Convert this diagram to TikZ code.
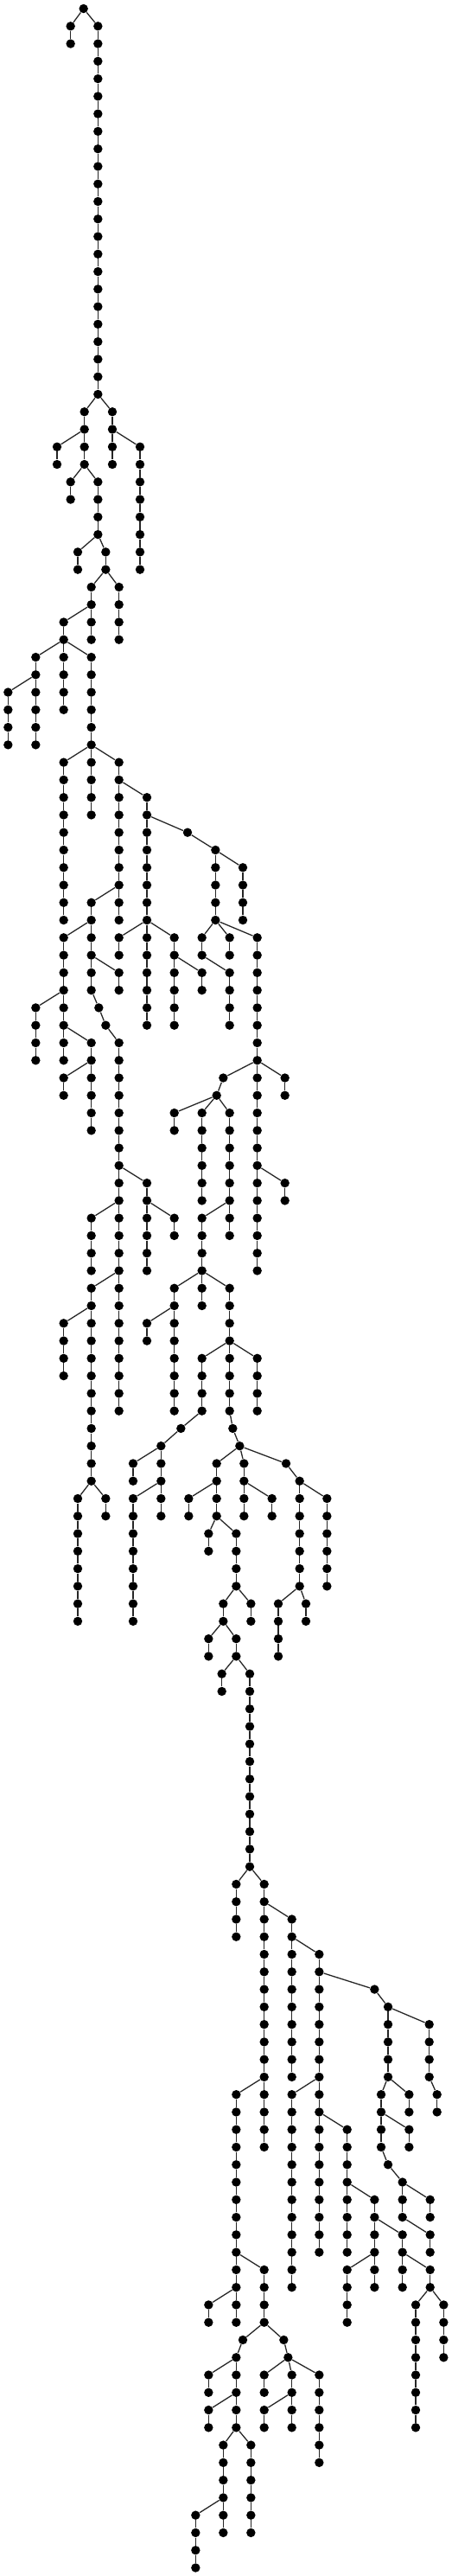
\documentclass[tikz,border=0pt]{standalone}
\begin{document}
\begin{tikzpicture}[x=0.166667pt,y=-10.135pt,
  dot/.style={circle,fill=black,draw=none,inner sep=0pt,minimum size=5.2pt},
  edge/.style={line width=0.65pt,draw=black!85}]
\useasboundingbox (0,-0.4933) rectangle (1632,146.47);
\def\chains{290/0/0, 245/1/2, 340/1/22, 293/23/26, 390/23/26, 198/25/26, 486/25/32, 245/27/28, 340/27/30, 270/31/32, 367/31/32, 317/33/36, 413/33/36, 221/35/40, 124/37/42, 317/37/46, 28/39/42, 221/43/52, 413/43/52, 510/45/58, 651/47/47, 748/48/52, 843/49/52, 317/51/56, 221/53/60, 413/53/54, 605/53/58, 701/53/54, 797/53/54, 893/53/72, 413/55/56, 701/55/56, 797/55/58, 124/57/60, 343/57/57, 367/58/58, 413/59/80, 317/59/64, 221/61/62, 775/61/61, 989/61/62, 752/62/62, 605/63/64, 701/63/68, 797/63/70, 510/67/72, 989/67/68, 317/69/72, 605/69/70, 701/69/74, 317/73/84, 605/73/80, 797/73/80, 221/75/78, 510/75/76, 701/77/80, 893/77/80, 628/81/81, 808/81/81, 559/82/86, 832/82/82, 462/83/84, 752/83/86, 847/83/86, 993/83/83, 1040/84/90, 270/85/92, 367/85/86, 462/85/92, 655/85/86, 944/85/86, 1135/85/90, 724/87/88, 820/87/90, 775/91/92, 871/91/92, 966/91/94, 1062/91/92, 724/93/94, 820/93/94, 770/95/96, 867/95/106, 820/107/110, 917/107/122, 1013/109/118, 1108/111/128, 1300/113/113, 1347/114/118, 1490/115/118, 820/119/132, 1013/119/130, 1323/119/122, 1420/119/120, 1517/119/120, 1205/121/128, 1420/121/122, 1347/123/123, 1397/124/126, 1300/125/130, 1493/125/126, 1397/127/130, 1493/127/128, 917/129/132, 1205/129/132, 1493/129/130, 724/131/132, 1443/131/138, 1540/131/134, 843/133/133, 985/133/133, 820/134/138, 1000/134/134, 724/135/136, 917/135/136, 1013/135/138, 1108/135/140, 724/137/138, 917/137/138, 775/139/144, 871/139/144, 679/143/146}
% nodes
\foreach \x/\a/\b in \chains {
  \foreach \r in {\a,...,\b} {\node[dot] (n\x-\r) at (\x,\r) {};}
}
% vertical connectors
\foreach \x/\a/\b in \chains {
  \ifnum\a<\b
    \pgfmathtruncatemacro\lastr{\b-1}
    \foreach \r in {\a,...,\lastr} {
      \pgfmathtruncatemacro\nxt{\r+1}
      \draw[edge] (n\x-\r) -- (n\x-\nxt);
    }
  \fi
}
% branching connectors
\foreach \p/\q/\c/\d in {290/0/245/1, 290/0/340/1,
340/22/293/23, 340/22/390/23,
293/24/198/25, 390/24/486/25,
293/26/245/27, 293/26/340/27,
340/30/270/31, 340/30/367/31,
367/32/317/33, 367/32/413/33,
317/34/221/35,
221/36/124/37, 221/36/317/37,
124/38/28/39,
317/42/221/43, 317/42/413/43,
413/44/510/45,
510/46/651/47, 651/47/748/48, 748/48/843/49,
413/50/317/51,
317/52/221/53,
510/52/413/53, 510/52/605/53,
748/52/701/53, 748/52/797/53, 748/52/893/53,
317/54/413/55, 605/54/701/55, 701/54/797/55,
221/56/124/57, 317/56/343/57, 343/57/367/58, 367/58/413/59,
221/58/317/59,
317/60/221/61,
893/60/775/61, 893/60/989/61,
775/61/752/62,
752/62/605/63, 752/62/701/63, 752/62/797/63,
413/66/510/67, 893/66/989/67,
413/68/317/69, 510/68/605/69, 797/68/701/69,
413/72/317/73, 701/72/605/73, 701/72/797/73,
317/74/221/75, 605/74/510/75,
797/76/701/77, 797/76/893/77,
701/80/628/81, 797/80/808/81,
628/81/559/82, 808/81/832/82,
559/82/462/83,
832/82/752/83, 832/82/847/83, 832/82/993/83,
993/83/1040/84,
317/84/270/85, 317/84/367/85,
559/84/462/85, 752/84/655/85, 847/84/944/85, 1040/84/1135/85,
752/86/724/87, 752/86/820/87,
820/90/775/91, 820/90/871/91,
1040/90/966/91, 1040/90/1062/91,
775/92/724/93, 775/92/820/93,
820/94/770/95, 820/94/867/95,
867/106/820/107, 867/106/917/107,
917/108/1013/109,
1013/110/1108/111,
1108/112/1300/113, 1300/113/1347/114,
1347/114/1490/115,
917/118/820/119, 1108/118/1013/119,
1347/118/1323/119, 1347/118/1420/119,
1490/118/1517/119,
1108/120/1205/121, 1323/120/1420/121,
1323/122/1347/123, 1347/123/1397/124,
1205/124/1300/125, 1397/124/1493/125,
1300/126/1397/127, 1397/126/1493/127,
820/128/917/129, 1300/128/1205/129, 1397/128/1493/129,
820/130/724/131,
1493/130/1443/131, 1493/130/1540/131,
917/132/843/133, 917/132/985/133,
843/133/820/134, 985/133/1000/134,
820/134/724/135,
1000/134/917/135, 1000/134/1013/135, 1000/134/1108/135,
820/136/724/137, 1013/136/917/137,
820/138/775/139, 820/138/871/139,
775/142/679/143} {
  \draw[edge] (n\p-\q) -- (n\c-\d);
}
\end{tikzpicture}
\end{document}
